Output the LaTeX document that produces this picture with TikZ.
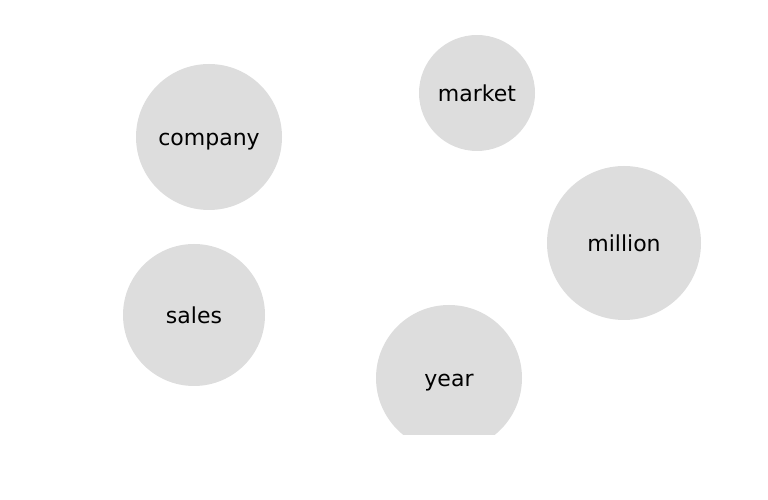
\documentclass[tikz,border=0pt]{standalone}
\usepackage{fontspec}
\setmainfont{DejaVu Sans}
\definecolor{bub}{HTML}{DDDDDD}
\begin{document}
\begin{tikzpicture}[x=1pt,y=1pt,
  bubble/.style={circle,fill=bub,draw=none,inner sep=0pt,minimum size=#1,text height=17.5pt,text depth=0pt,font=\fontsize{22}{26}\selectfont}]
\useasboundingbox (0,0) rectangle (768,500);
\begin{scope}
\clip (0,65) rectangle (768,464);
\node[bubble=146pt] (company) at (209,363) {company};
\node[bubble=116pt] (market) at (477,407) {market};
\node[bubble=154pt] (million) at (624,257) {million};
\node[bubble=142pt] (sales) at (194,185) {sales};
\node[bubble=146pt] (year) at (449,122) {year};
\end{scope}
\end{tikzpicture}
\end{document}
